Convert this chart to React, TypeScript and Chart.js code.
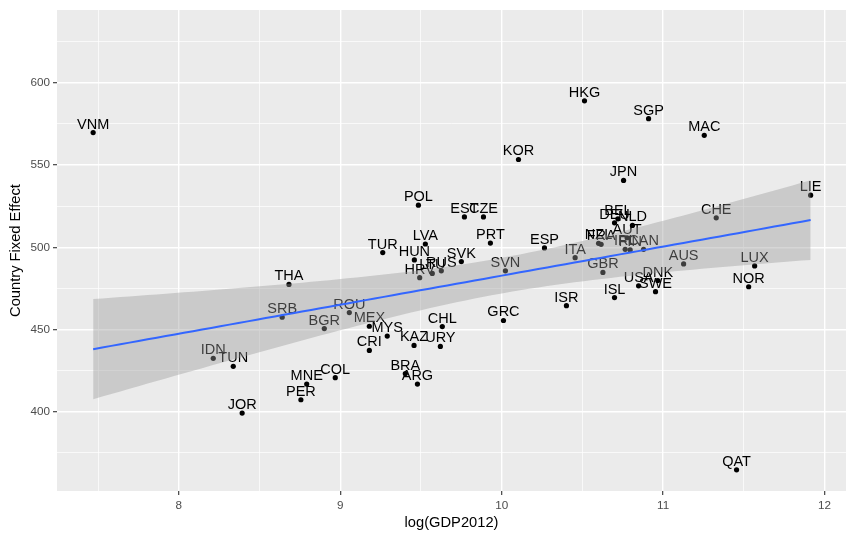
import React, { useEffect, useRef } from 'react';
import { Chart, registerables } from 'chart.js';
Chart.register(...registerables);

const countries = ['VNM','THA','IDN','TUN','JOR','SRB','BGR','ROU','MEX','MYS','CRI','KAZ','URY','CHL','BRA','ARG','COL','MNE','PER','TUR','POL','LVA','HUN','HRV','LTU','RUS','SVK','EST','CZE','PRT','GRC','SVN','KOR','ESP','ISR','ITA','HKG','NZL','FRA','GBR','DEU','ISL','BEL','JPN','IRL','AUT','FIN','NLD','USA','CAN','SGP','SWE','DNK','AUS','MAC','CHE','QAT','NOR','LUX','LIE'];
const logGdp2012 = [7.469,8.682,8.213,8.337,8.392,8.640,8.901,9.056,9.180,9.291,9.180,9.457,9.620,9.632,9.403,9.478,8.969,8.792,8.756,9.263,9.484,9.527,9.459,9.492,9.570,9.626,9.750,9.769,9.887,9.930,10.011,10.023,10.104,10.265,10.401,10.455,10.513,10.600,10.616,10.627,10.699,10.699,10.720,10.755,10.765,10.777,10.796,10.810,10.848,10.879,10.910,10.953,10.967,11.127,11.255,11.329,11.455,11.530,11.567,11.914];
const fixedEffect = [569.8,477.4,432.5,427.6,399.2,457.5,450.6,460.3,452.0,446.0,437.3,440.3,439.7,451.8,423.2,416.8,420.7,416.8,407.3,496.8,525.6,502.0,492.3,481.5,484.1,485.7,491.3,518.5,518.5,502.6,455.5,485.7,553.4,499.6,464.5,493.7,589.1,502.4,501.8,484.7,514.9,469.4,517.3,540.7,498.8,505.8,498.4,513.3,476.6,498.8,578.2,473.0,479.8,489.9,568.1,517.9,364.7,476.0,488.7,531.7];

const xTicks = [7.5, 8, 8.5, 9, 9.5, 10, 10.5, 11, 11.5, 12];
const yTicks = [375, 400, 425, 450, 475, 500, 525, 550, 575, 600, 625];
const xLimits = [7.245, 12.133];
const yLimits = [351.8, 644.3];

const FONT = '"Liberation Sans", Arial, Helvetica, sans-serif';

// OLS fit with 95% confidence band (as geom_smooth(method = "lm"))
function lmFit(xs: number[], ys: number[], nOut = 80) {
  const n = xs.length;
  const xbar = xs.reduce((a, b) => a + b, 0) / n;
  const ybar = ys.reduce((a, b) => a + b, 0) / n;
  let sxx = 0, sxy = 0;
  for (let i = 0; i < n; i++) { sxx += (xs[i] - xbar) ** 2; sxy += (xs[i] - xbar) * (ys[i] - ybar); }
  const b = sxy / sxx;
  const a = ybar - b * xbar;
  let rss = 0;
  for (let i = 0; i < n; i++) rss += (ys[i] - a - b * xs[i]) ** 2;
  const s2 = rss / (n - 2);
  const t = 2.0017;
  const xmin = Math.min(...xs), xmax = Math.max(...xs);
  const line: any[] = [], lo: any[] = [], hi: any[] = [];
  for (let i = 0; i < nOut; i++) {
    const x = xmin + (xmax - xmin) * i / (nOut - 1);
    const y = a + b * x;
    const se = Math.sqrt(s2 * (1 / n + (x - xbar) ** 2 / sxx));
    line.push({ x, y }); lo.push({ x, y: y - t * se }); hi.push({ x, y: y + t * se });
  }
  return { line, lo, hi };
}

const isMajorX = (v: number) => Number.isInteger(v);
const isMajorY = (v: number) => v % 50 === 0;

export default function App() {
  const ref = useRef<HTMLCanvasElement>(null);
  useEffect(() => {
    const fit = lmFit(logGdp2012, fixedEffect);
    const points = logGdp2012.map((x, i) => ({ x, y: fixedEffect[i] }));

    const bgPlugin = {
      id: 'panelBg',
      beforeDraw(chart: any) {
        const { ctx, chartArea } = chart;
        ctx.save();
        ctx.fillStyle = '#FFFFFF';
        ctx.fillRect(0, 0, chart.width, chart.height);
        ctx.fillStyle = '#EBEBEB';
        ctx.fillRect(chartArea.left, chartArea.top, chartArea.right - chartArea.left, chartArea.bottom - chartArea.top);
        ctx.restore();
      },
    };
    const labelPlugin = {
      id: 'pointLabels',
      afterDatasetDraw(chart: any, args: any) {
        if (args.index !== 0) return;
        const { ctx } = chart;
        ctx.save();
        ctx.font = `14.5px ${FONT}`;
        ctx.fillStyle = '#000000';
        ctx.textAlign = 'center';
        ctx.textBaseline = 'alphabetic';
        args.meta.data.forEach((el: any, i: number) => {
          ctx.fillText(countries[i], el.x, el.y - 4);
        });
        ctx.restore();
      },
    };

    const chart = new Chart(ref.current!, {
      type: 'scatter',
      data: {
        datasets: [
          { type: 'scatter', data: points, backgroundColor: '#000000', borderWidth: 0, pointRadius: 2.6, order: 3 } as any,
          { type: 'line', data: fit.hi, showLine: true, borderWidth: 0, borderColor: 'rgba(0,0,0,0)', pointRadius: 0, fill: '+1', backgroundColor: 'rgba(153,153,153,0.4)', tension: 0, order: 2 } as any,
          { type: 'line', data: fit.lo, showLine: true, borderWidth: 0, borderColor: 'rgba(0,0,0,0)', pointRadius: 0, fill: false, tension: 0, order: 2 } as any,
          { type: 'line', data: fit.line, showLine: true, borderWidth: 2, borderColor: '#3366FF', pointRadius: 0, fill: false, tension: 0, order: 1 } as any,
        ],
      },
      options: {
        animation: false,
        responsive: false,
        devicePixelRatio: 1,
        layout: { padding: { top: 7, right: 8, left: 0, bottom: 0 } },
        plugins: { legend: { display: false }, tooltip: { enabled: false } },
        events: [],
        scales: {
          x: {
            type: 'linear',
            min: xLimits[0],
            max: xLimits[1],
            afterBuildTicks: (s: any) => { s.ticks = xTicks.map((v) => ({ value: v })); },
            afterFit: (s: any) => { s.height = 47; },
            ticks: {
              autoSkip: false, maxRotation: 0, minRotation: 0, padding: 4,
              color: '#4D4D4D', font: { size: 11.7, family: FONT },
              callback: (v: any) => (isMajorX(Number(v)) ? String(v) : ''),
            },
            grid: {
              color: '#FFFFFF',
              lineWidth: (c: any) => (c.tick && isMajorX(c.tick.value) ? 1.4 : 0.7),
              tickColor: (c: any) => (c.tick && isMajorX(c.tick.value) ? '#333333' : 'rgba(0,0,0,0)'),
              tickLength: 4,
              tickWidth: 1.1,
            },
            border: { display: false },
            title: { display: true, text: 'log(GDP2012)', color: '#000000', font: { size: 14.7, family: FONT }, padding: { top: 0, bottom: 6 } },
          },
          y: {
            type: 'linear',
            min: yLimits[0],
            max: yLimits[1],
            afterBuildTicks: (s: any) => { s.ticks = yTicks.map((v) => ({ value: v })); },
            afterFit: (s: any) => { s.width = 57; },
            ticks: {
              autoSkip: false, padding: 3,
              color: '#4D4D4D', font: { size: 11.7, family: FONT },
              callback: (v: any) => (isMajorY(Number(v)) ? String(v) : ''),
            },
            grid: {
              color: '#FFFFFF',
              lineWidth: (c: any) => (c.tick && isMajorY(c.tick.value) ? 1.4 : 0.7),
              tickColor: (c: any) => (c.tick && isMajorY(c.tick.value) ? '#333333' : 'rgba(0,0,0,0)'),
              tickLength: 4,
              tickWidth: 1.1,
            },
            border: { display: false },
            title: { display: true, text: 'Country Fixed Effect', color: '#000000', font: { size: 14.7, family: FONT }, padding: { top: 7, bottom: 0 } },
          },
        },
      } as any,
      plugins: [bgPlugin, labelPlugin],
    });
    return () => chart.destroy();
  }, []);
  return (
    <div style={{ position: 'absolute', left: 0, top: 0, width: 854, height: 538 }}>
      <canvas ref={ref} width={854} height={538} style={{ display: 'block', width: 854, height: 538 }} />
    </div>
  );
}
